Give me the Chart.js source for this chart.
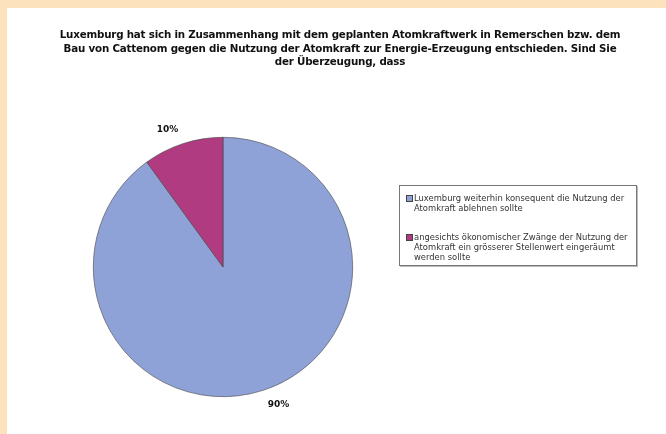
<!DOCTYPE html>
<html>
<head>
<meta charset="utf-8">
<script src="https://cdn.jsdelivr.net/npm/chart.js@4"></script>
<style>
  html, body { margin: 0; padding: 0; }
  body { width: 666px; height: 434px; background: #fde3bd; position: relative; overflow: hidden;
         font-family: "DejaVu Sans", Verdana, sans-serif; }
  #panel { position: absolute; left: 7px; top: 8px; right: 0; bottom: 0; background: #fff; }
  #chart { position: absolute; left: 0; top: 0; }
  #title { position: absolute; left: 10px; top: 28px; width: 660px; text-align: center;
           font-weight: bold; font-size: 10.3px; line-height: 13.5px; color: #111; letter-spacing: -0.2px; }
  #legend { position: absolute; left: 399px; top: 185px; width: 238px; height: 81px;
            border: 1px solid #777; box-shadow: 1px 1px 0 #bbb; background: #fff;
            font-size: 8.4px; line-height: 10px; color: #333; box-sizing: border-box; padding: 7px 2px 0 6px;
            white-space: nowrap; }
  .item { position: relative; padding-left: 8px; margin-bottom: 19px; }
  .sw { position: absolute; left: 0; top: 2px; width: 5px; height: 5px; border: 0.5px solid #444; }
</style>
</head>
<body>
<div id="panel"></div>
<canvas id="chart" width="666" height="434"></canvas>
<div id="title"></div>
<div id="legend"></div>
<script>
// ─── DATEN ────────────────────────────────────────────────────────────────
const titleLines = [
  'Luxemburg hat sich in Zusammenhang mit dem geplanten Atomkraftwerk in Remerschen bzw. dem',
  'Bau von Cattenom gegen die Nutzung der Atomkraft zur Energie-Erzeugung entschieden. Sind Sie',
  'der Überzeugung, dass',
];
// Legendentexte, wie im Original umbrochen
const categories = [
  ['Luxemburg weiterhin konsequent die Nutzung der', 'Atomkraft ablehnen sollte'],
  ['angesichts ökonomischer Zwänge der Nutzung der', 'Atomkraft ein grösserer Stellenwert eingeräumt', 'werden sollte'],
];
const values = [90, 10];
const colors = ['#8fa2d7', '#b03b80'];

document.getElementById('title').innerHTML = titleLines.join('<br>');
document.getElementById('legend').innerHTML = categories.map((c, i) =>
  `<div class="item"><span class="sw" style="background:${colors[i]}"></span>${c.join('<br>')}</div>`).join('');

// ─── LABELS AUSSERHALB ─────────────────────────────────────────────────────
const outsideLabels = {
  id: 'outsideLabels',
  afterDatasetsDraw(chart) {
    const { ctx } = chart;
    const meta = chart.getDatasetMeta(0);
    const total = values.reduce((s, v) => s + v, 0);
    ctx.save();
    ctx.font = 'bold 9px "DejaVu Sans", Verdana, sans-serif';
    ctx.fillStyle = '#111';
    ctx.textAlign = 'center';
    ctx.textBaseline = 'middle';
    meta.data.forEach((arc, i) => {
      const mid = (arc.startAngle + arc.endAngle) / 2;
      const r = arc.outerRadius + 12;
      const ax = arc.x + Math.cos(mid) * r;
      const ay = arc.y + Math.sin(mid) * r;
      const txt = Math.round(values[i] / total * 100) + '%';
      const w = ctx.measureText(txt).width;
      const x = ax + Math.sign(Math.cos(mid)) * (w / 2 + 1);
      const y = ay + Math.sign(Math.sin(mid)) * 3;
      ctx.fillText(txt, x, y);
    });
    ctx.restore();
  },
};

new Chart(document.getElementById('chart'), {
  type: 'pie',
  data: {
    labels: categories.map(c => c.join(' ')),
    datasets: [{
      data: values,
      backgroundColor: colors,
      borderColor: '#444',
      borderWidth: 0.6,
    }],
  },
  options: {
    responsive: false,
    animation: false,
    layout: { padding: { left: 93, right: 313, top: 137, bottom: 37 } },
    plugins: { legend: { display: false }, tooltip: { enabled: false }, title: { display: false } },
  },
  plugins: [outsideLabels],
});
</script>
</body>
</html>
